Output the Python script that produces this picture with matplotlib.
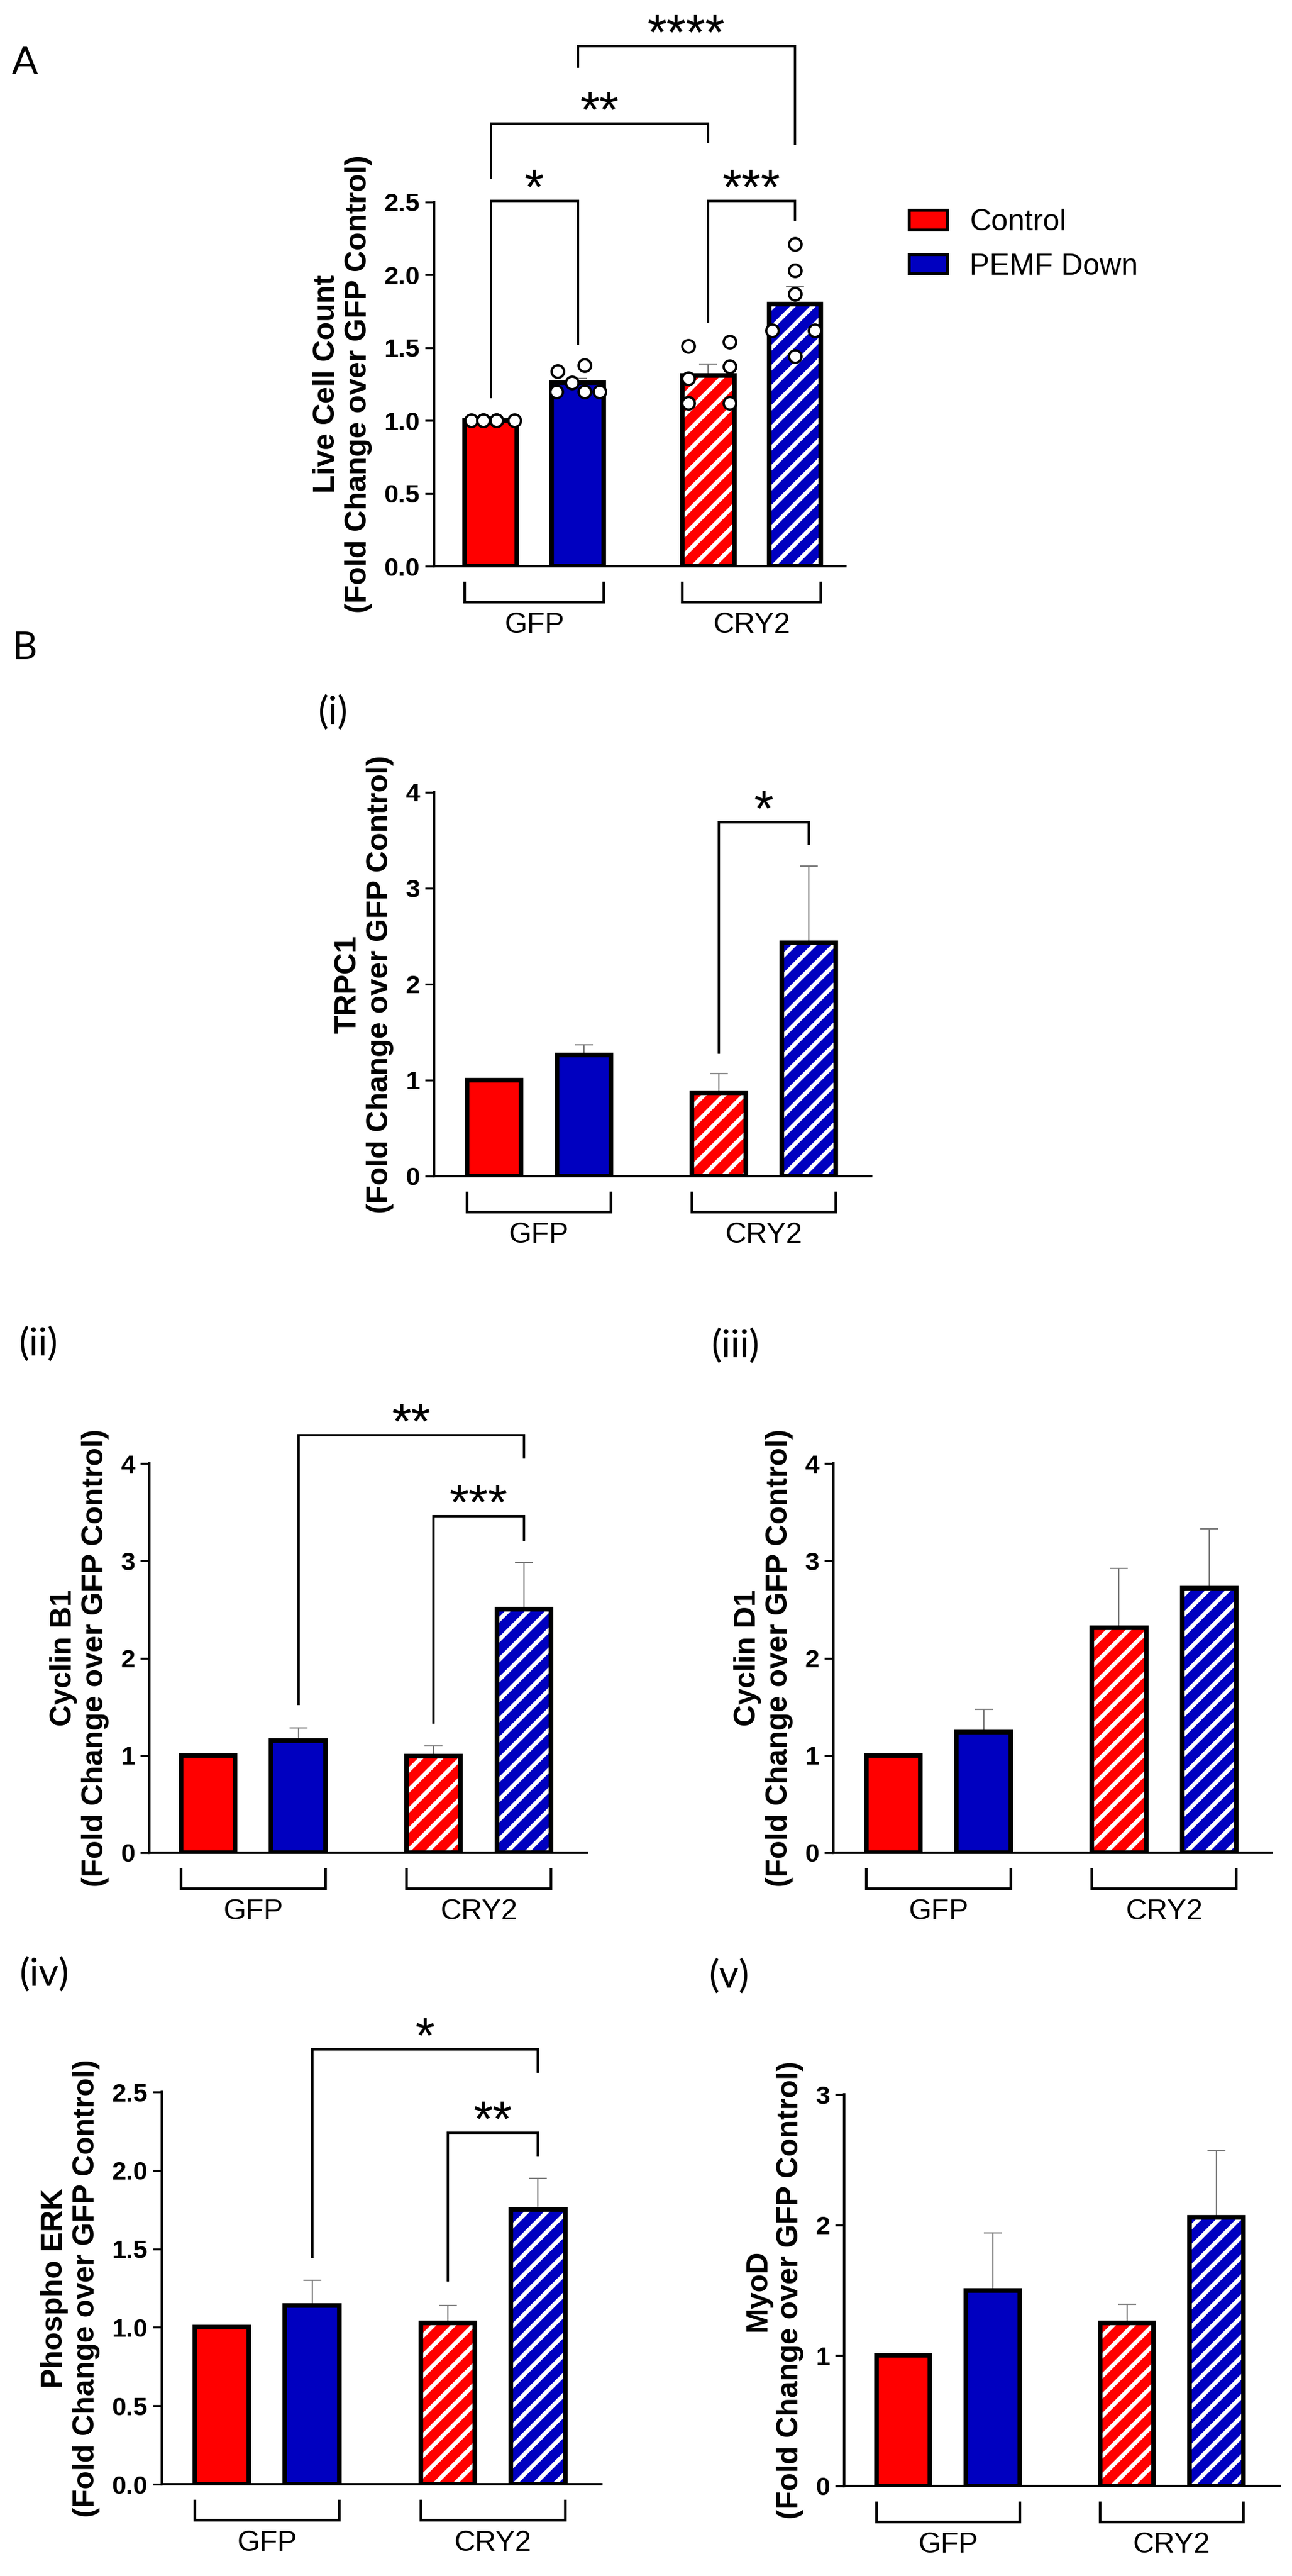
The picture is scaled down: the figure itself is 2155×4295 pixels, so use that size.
"""Live cell count and protein fold-change bar charts (GFP vs CRY2, Control vs PEMF Down)."""

import matplotlib
matplotlib.use("Agg")
import matplotlib.pyplot as plt
from matplotlib.patches import Patch

plt.rcParams["font.family"] = ["Liberation Sans", "DejaVu Sans"]
plt.rcParams["hatch.linewidth"] = 5

# ---- data ----
groups = ["GFP", "CRY2"]
conditions = ["Control", "PEMF Down"]
bar_colors = ["#FF0000", "#0000C0", "#FF0000", "#0000C0"]
bar_hatched = [False, False, True, True]

live_mean = [1.00, 1.26, 1.31, 1.80]
live_sem = [0.00, 0.03, 0.08, 0.12]
live_gfp_ctrl = [1.00, 1.00, 1.00, 1.00, 1.00, 1.00]
live_gfp_pemf = [1.34, 1.38, 1.26, 1.20, 1.20, 1.20]
live_cry2_ctrl = [1.51, 1.54, 1.37, 1.29, 1.12, 1.12]
live_cry2_pemf = [2.21, 2.03, 1.87, 1.62, 1.62, 1.44]

trpc1_mean = [1.00, 1.26, 0.87, 2.43]
trpc1_sem = [0.00, 0.11, 0.20, 0.80]

cyclinb1_mean = [1.00, 1.15, 0.99, 2.50]
cyclinb1_sem = [0.00, 0.13, 0.11, 0.48]

cyclind1_mean = [1.00, 1.24, 2.31, 2.72]
cyclind1_sem = [0.00, 0.23, 0.61, 0.61]

perk_mean = [1.00, 1.14, 1.03, 1.75]
perk_sem = [0.00, 0.16, 0.11, 0.20]

myod_mean = [1.00, 1.50, 1.25, 2.06]
myod_sem = [0.00, 0.44, 0.14, 0.51]

# significance brackets: (bar a, bar b, bracket height, leg end a, leg end b, label)
live_sig = [(0, 1, 2.51, 1.16, 1.53, "*"), (0, 2, 3.04, 2.67, 2.91, "**"),
            (2, 3, 2.51, 1.68, 2.38, "***"), (1, 3, 3.57, 3.43, 2.90, "****")]
trpc1_sig = [(2, 3, 3.69, 1.29, 3.46, "*")]
cyclinb1_sig = [(1, 3, 4.29, 1.53, 4.06, "**"), (2, 3, 3.46, 1.34, 3.22, "***")]
perk_sig = [(1, 3, 2.77, 1.45, 2.63, "*"), (2, 3, 2.24, 1.30, 2.10, "**")]

# ---- layout ----
W, H = 2155, 4295
fig = plt.figure(figsize=(W / 100, H / 100), dpi=100)

xpos = [0, 1, 2.5, 3.5]
bar_w = 0.6
jitter = [[-0.23, -0.09, 0.06, 0.27, -0.09, 0.06],
          [-0.23, 0.08, -0.07, -0.25, 0.08, 0.25],
          [-0.23, 0.25, 0.25, -0.23, -0.23, 0.25],
          [0.0, 0.0, 0.0, -0.26, 0.23, 0.0]]


def make_axes(left, right, y0, ytop):
    ax = fig.add_axes([left / W, 1 - y0 / H, (right - left) / W, (y0 - ytop) / H])
    ax.spines["top"].set_visible(False)
    ax.spines["right"].set_visible(False)
    ax.spines["left"].set_linewidth(3)
    ax.spines["bottom"].set_linewidth(3)
    ax.tick_params(axis="y", length=11, width=2.4, pad=6)
    ax.tick_params(axis="x", bottom=False, labelbottom=False)
    ax.axes_h = y0 - ytop
    return ax


def draw_bars(ax, means, sems, xlim, ylim, yticks, fmt, ylabel):
    ax.errorbar(xpos, means, yerr=[[0] * 4, sems], fmt="none", ecolor="#7a7a7a",
                elinewidth=1.6, capsize=11, capthick=1.6, zorder=1)
    for i in range(4):
        if bar_hatched[i]:
            ax.bar(xpos[i], means[i], bar_w, color=bar_colors[i], edgecolor="white",
                   hatch="/", linewidth=0, zorder=2)
            ax.bar(xpos[i], means[i], bar_w, facecolor="none", edgecolor="black",
                   linewidth=5.5, zorder=3)
        else:
            ax.bar(xpos[i], means[i], bar_w, color=bar_colors[i], edgecolor="black",
                   linewidth=5.5, zorder=3)
    ax.set_xlim(*xlim)
    ax.set_ylim(*ylim)
    ax.set_yticks(yticks)
    ax.set_yticklabels([fmt.format(t) for t in yticks], fontweight="bold", fontsize=31)
    ax.set_ylabel(ylabel, fontsize=36, fontweight="bold", labelpad=14, linespacing=1.2)

    # group brackets under the x axis
    h = ax.axes_h
    tr = ax.get_xaxis_transform()
    for g, name in enumerate(groups):
        a, b = xpos[2 * g] - bar_w / 2, xpos[2 * g + 1] + bar_w / 2
        ax.plot([a, a, b, b], [-28 / h, -60 / h, -60 / h, -28 / h], color="black",
                lw=3.2, transform=tr, clip_on=False, solid_joinstyle="miter")
        ax.text((a + b) / 2, -76 / h, name, transform=tr, ha="center", va="top",
                fontsize=35)


def draw_sig(ax, sig):
    for a, b, y, ya, yb, label in sig:
        ax.plot([xpos[a], xpos[a], xpos[b], xpos[b]], [ya, y, y, yb], color="black",
                lw=2.8, clip_on=False, solid_joinstyle="miter", zorder=5)
        ax.annotate(label, xy=((xpos[a] + xpos[b]) / 2, y), xytext=(0, -4),
                    textcoords="offset points", ha="center", va="baseline",
                    fontsize=60, annotation_clip=False)


def panel_label(x, y, s):
    fig.text(x / W, 1 - y / H, s, ha="center", va="center", fontsize=46,
             family=["Lato", "DejaVu Sans"])


# ---- panel A ----
axA = make_axes(724, 1410, 944, 337)
draw_bars(axA, live_mean, live_sem, (-0.655, 4.08), (0, 2.5),
          [0, 0.5, 1.0, 1.5, 2.0, 2.5], "{:.1f}",
          "Live Cell Count\n(Fold Change over GFP Control)")
for i, pts in enumerate([live_gfp_ctrl, live_gfp_pemf, live_cry2_ctrl, live_cry2_pemf]):
    axA.plot([xpos[i] + j for j in jitter[i]], pts, "o", ms=15, mfc="white",
             mec="black", mew=2.8, clip_on=False, zorder=4)
draw_sig(axA, live_sig)
handles = [Patch(facecolor=bar_colors[0], edgecolor="black", linewidth=3.5),
           Patch(facecolor=bar_colors[1], edgecolor="black", linewidth=3.5)]
axA.legend(handles, conditions, loc="upper left", bbox_to_anchor=(1516 / W, 1 - 348 / H),
           bbox_transform=fig.transFigure, frameon=False, fontsize=36,
           handlelength=1.28, handleheight=0.62, handletextpad=0.74,
           labelspacing=0.55, borderpad=0, borderaxespad=0)

# ---- panel B (i) TRPC1 ----
axi = make_axes(724, 1453, 1961, 1321)
draw_bars(axi, trpc1_mean, trpc1_sem, (-0.665, 4.19), (0, 4), [0, 1, 2, 3, 4], "{:.0f}",
          "TRPC1\n(Fold Change over GFP Control)")
draw_sig(axi, trpc1_sig)

# ---- (ii) Cyclin B1 ----
axii = make_axes(249, 979, 3089, 2440)
draw_bars(axii, cyclinb1_mean, cyclinb1_sem, (-0.652, 4.20), (0, 4), [0, 1, 2, 3, 4], "{:.0f}",
          "Cyclin B1\n(Fold Change over GFP Control)")
draw_sig(axii, cyclinb1_sig)

# ---- (iii) Cyclin D1 ----
axiii = make_axes(1390, 2121, 3089, 2440)
draw_bars(axiii, cyclind1_mean, cyclind1_sem, (-0.664, 4.19), (0, 4), [0, 1, 2, 3, 4], "{:.0f}",
          "Cyclin D1\n(Fold Change over GFP Control)")

# ---- (iv) Phospho ERK ----
axiv = make_axes(270, 1003, 4142, 3488)
draw_bars(axiv, perk_mean, perk_sem, (-0.663, 4.20), (0, 2.5),
          [0, 0.5, 1.0, 1.5, 2.0, 2.5], "{:.1f}",
          "Phospho ERK\n(Fold Change over GFP Control)")
draw_sig(axiv, perk_sig)

# ---- (v) MyoD ----
axv = make_axes(1408, 2135, 4145, 3492)
draw_bars(axv, myod_mean, myod_sem, (-0.659, 4.21), (0, 3), [0, 1, 2, 3], "{:.0f}",
          "MyoD\n(Fold Change over GFP Control)")

panel_label(41, 105, "A")
panel_label(41, 1081, "B")
panel_label(555, 1189, "(i)")
panel_label(64, 2242, "(ii)")
panel_label(1226, 2245, "(iii)")
panel_label(73, 3293, "(iv)")
panel_label(1216, 3296, "(v)")

fig.savefig("out.png", dpi=100)
print("Plot saved as out.png")
